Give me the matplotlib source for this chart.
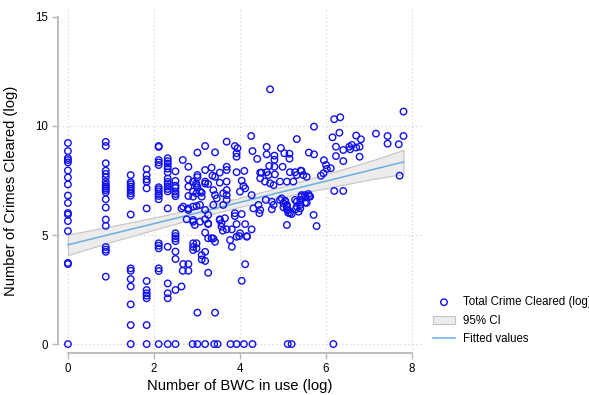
import matplotlib
matplotlib.use("Agg")
import matplotlib.pyplot as plt

plt.rcParams['font.family'] = ['Liberation Sans', 'DejaVu Sans']

# stacked columns at the low BWC counts (x value, then the y values in that column)
col_x = [0.0, 0.88, 1.46, 1.83, 2.11, 2.32, 2.50]
col_y = [
    [9.22, 8.85, 8.53, 8.44, 8.33, 7.96, 7.64, 7.32, 6.81, 6.47, 6.01, 5.94, 5.64, 5.18, 3.72, 3.67],
    [9.27, 9.08, 8.29, 7.95, 7.80, 7.65, 7.44, 7.31, 7.22, 7.14, 7.06, 6.96, 6.64, 6.26, 5.71, 5.42,
     4.45, 4.33, 4.23, 3.09],
    [7.75, 7.42, 7.33, 7.22, 7.11, 7.02, 6.91, 6.80, 5.94, 3.47, 3.36, 2.98, 2.64, 1.82, 0.87],
    [8.02, 7.74, 7.55, 7.44, 7.14, 6.22, 2.89, 2.48, 2.33, 2.22, 2.10, 0.87],
    [9.08, 9.04, 8.44, 8.33, 8.21, 7.19, 7.10, 7.00, 6.88, 6.79, 6.64, 4.62, 4.51, 4.39, 3.47, 3.35],
    [8.52, 8.39, 8.28, 8.15, 8.04, 7.87, 7.59, 7.44, 7.34, 7.22, 7.11, 7.00, 6.22, 4.46, 2.78, 2.33, 2.10],
    [7.92, 7.48, 7.26, 7.16, 6.99, 6.88, 6.78, 5.08, 4.95, 4.84, 4.72, 4.24, 3.90, 2.48],
]

# units with zero crimes cleared
zero_x = [0.0, 1.46, 1.83, 2.11, 2.32, 2.50, 2.90, 3.01, 3.19, 3.40, 3.48, 3.78, 3.92,
          4.09, 4.29, 5.11, 5.20, 6.17]

# the rest of the scatter
pts_x = [2.76, 2.91, 2.95, 3.19, 3.26, 3.53, 3.57, 3.65, 3.88, 3.88, 4.04, 3.60, 3.69, 3.81, 3.92,
         4.12, 4.27, 3.19, 3.26, 3.34, 3.42, 3.77, 3.81, 3.92, 3.98, 4.16, 5.09, 2.91, 2.99, 2.91,
         2.99, 2.91, 3.19, 3.11, 3.11, 3.19, 2.68, 2.80, 2.67, 2.80, 3.26, 4.12, 2.64, 3.01, 3.42,
         4.04,
         4.70, 4.26, 5.32, 3.69, 3.88, 3.94, 3.92, 3.92, 3.19, 3.01, 3.42, 2.67, 2.80, 4.29, 4.40,
         4.62, 4.62, 4.80, 4.80, 4.95, 5.03, 5.15, 5.15, 4.68, 4.80, 4.99, 4.50, 4.62, 4.66, 4.81,
         5.16, 5.28, 5.32, 3.69, 3.69, 3.34, 3.19, 3.01, 3.01, 3.36, 3.42, 3.53, 3.92, 4.10, 4.47,
         4.47,
         7.80, 6.19, 6.33, 5.72, 6.15, 6.31, 6.70, 6.81, 7.16, 7.43, 7.43, 7.69, 7.80, 6.23, 6.40,
         6.54, 6.60, 6.56, 6.70, 6.78, 6.78, 6.23, 6.40, 5.60, 5.72, 5.95, 6.00, 6.02, 6.11, 5.94,
         5.88, 5.43, 5.47, 5.55, 7.71, 5.41,
         6.19, 6.40, 5.71, 5.78, 5.43, 5.53, 5.61, 5.51, 5.40, 4.97, 5.05, 5.09, 5.01, 5.09, 5.12,
         5.20, 5.30, 5.32, 5.40, 5.43, 5.51, 5.59, 5.63, 5.55, 5.40,
         2.98, 3.01, 3.19, 3.26, 3.53, 3.69, 4.04, 4.08, 4.12, 4.58, 4.70, 4.78, 4.93, 5.09, 5.24,
         2.80, 2.91, 2.99, 3.07, 3.11, 3.38, 3.42, 3.46, 3.69, 3.69, 3.61, 4.00, 4.27, 4.43, 4.47,
         4.45, 4.31, 4.60, 4.74, 4.74, 4.78, 4.93, 5.01, 5.09, 5.12, 5.16, 5.28, 5.32, 5.36, 5.05,
         2.68, 2.80, 2.91, 2.99, 3.07, 3.38, 3.61, 3.69,
         2.80, 2.80, 2.91, 2.91, 2.99, 3.11, 3.19, 3.19, 3.26, 3.07, 2.91, 2.80, 2.64, 3.26, 3.53,
         3.57, 3.38, 4.00, 4.16]
pts_y = [5.72, 5.69, 5.46, 5.72, 5.50, 5.72, 5.54, 5.77, 6.00, 5.87, 5.96, 5.20, 5.26, 5.26, 5.50,
         5.50, 5.26, 5.11, 4.85, 4.85, 4.69, 4.77, 4.46, 4.92, 4.95, 4.92, 5.46, 4.62, 4.62, 4.46,
         4.39, 4.31, 4.23, 4.08, 3.88, 3.81, 3.67, 3.67, 3.36, 3.36, 3.27, 3.66, 2.64, 1.44, 1.44,
         2.90,
         11.68, 9.54, 9.40, 9.28, 9.08, 8.98, 8.75, 8.59, 9.08, 8.78, 8.79, 8.44, 8.13, 8.85, 8.49,
         9.04, 8.70, 8.64, 8.45, 8.99, 8.75, 8.73, 8.50, 8.17, 8.13, 8.13, 7.86, 7.88, 7.75, 7.78,
         7.88, 7.88, 7.75, 8.13, 7.98, 8.09, 7.98, 7.75, 7.65, 7.72, 7.67, 7.86, 7.88, 7.94, 7.86,
         7.60,
         10.66, 10.31, 10.40, 9.97, 9.48, 9.69, 9.56, 9.39, 9.65, 9.54, 9.19, 9.16, 9.54, 9.05, 8.90,
         9.05, 9.13, 8.93, 9.01, 9.05, 8.59, 8.62, 8.39, 8.78, 8.70, 8.43, 8.21, 8.03, 8.06, 7.83,
         7.72, 7.94, 7.75, 7.67, 7.72, 7.95,
         7.02, 7.02, 5.92, 5.41, 6.83, 6.73, 6.79, 6.48, 6.22, 6.68, 6.53, 6.38, 6.27, 6.18, 6.02,
         5.96, 6.19, 6.53, 6.61, 6.76, 6.83, 6.88, 6.76, 6.48, 6.38,
         7.37, 7.19, 7.45, 7.34, 7.40, 7.45, 7.49, 7.25, 7.14, 7.45, 7.37, 7.29, 7.45, 7.45, 7.45,
         6.79, 6.76, 6.91, 6.99, 6.76, 7.06, 6.83, 6.68, 7.06, 6.83, 6.91, 6.99, 6.83, 6.38, 6.15,
         6.00, 6.22, 6.61, 6.53, 6.18, 6.38, 6.61, 6.45, 6.30, 6.15, 6.00, 6.61, 6.30, 6.07, 6.57,
         6.30, 6.22, 6.30, 6.33, 6.38, 6.38, 6.38, 6.61,
         7.55, 7.22, 7.45, 6.99, 7.29, 6.94, 7.36, 6.15, 5.92, 5.61, 5.61, 6.15, 6.22, 5.53, 5.69,
         5.38, 4.84, 5.08, 4.95]

# fitted line and 95% CI band
fit_x = [0.0, 1.0, 2.0, 3.0, 4.0, 5.0, 6.0, 7.0, 7.8]
fit_y = [4.55, 5.04, 5.52, 6.01, 6.50, 6.99, 7.47, 7.96, 8.35]
ci_lo = [4.08, 4.68, 5.24, 5.79, 6.29, 6.75, 7.15, 7.54, 7.80]
ci_hi = [5.02, 5.40, 5.80, 6.23, 6.71, 7.23, 7.79, 8.38, 8.90]

# gather all scatter points
all_x = []
all_y = []
for cx, ys in zip(col_x, col_y):
    all_x += [cx] * len(ys)
    all_y += ys
all_x += zero_x
all_y += [0.0] * len(zero_x)
all_x += pts_x
all_y += pts_y

fig = plt.figure(figsize=(5.89, 3.95), dpi=100)
ax = fig.add_axes([58 / 589, 42 / 395, 364 / 589, 345 / 395])

ci = ax.fill_between(fit_x, ci_lo, ci_hi, facecolor='#ececec', edgecolor='#c4c4c4',
                     linewidth=0.8, zorder=2, label='95% CI')
line, = ax.plot(fit_x, fit_y, color='#6aaee0', linewidth=1.1, zorder=3, label='Fitted values')
sc = ax.scatter(all_x, all_y, s=22, facecolors='none', edgecolors='#1010ee', linewidths=1.0,
                zorder=4, label='Total Crime Cleared (log)')

ax.set_xlim(-0.23, 8.23)
ax.set_ylim(-0.41, 15.41)
ax.set_xticks([0, 2, 4, 6, 8])
ax.set_yticks([0, 5, 10, 15])

# dotted grid (no horizontal line at 15)
for gx in [0, 2, 4, 6, 8]:
    ax.axvline(gx, color='#d0d0d0', linestyle=(0, (1, 2.5)), linewidth=0.8, zorder=1)
for gy in [0, 5, 10]:
    ax.axhline(gy, color='#d0d0d0', linestyle=(0, (1, 2.5)), linewidth=0.8, zorder=1)

for side in ['top', 'right']:
    ax.spines[side].set_visible(False)
ax.spines['left'].set_bounds(0, 15)
ax.spines['bottom'].set_bounds(0, 8)
for side in ['left', 'bottom']:
    ax.spines[side].set_color('#b8b8b8')
    ax.spines[side].set_linewidth(1.3)
ax.tick_params(colors='#b8b8b8', width=1.0, length=4, labelcolor='black', labelsize=8.3, pad=3)

ax.set_xlabel('Number of BWC in use (log)', fontsize=10.6, labelpad=3)
ax.set_ylabel('Number of Crimes Cleared (log)', fontsize=10.6)
ax.yaxis.set_label_coords(-0.11, 0.47)

fig.legend(handles=[sc, ci, line], loc='upper left', bbox_to_anchor=(433 / 589, 0.25),
           frameon=False, fontsize=8.3, handlelength=1.9, handletextpad=0.7,
           labelspacing=0.55, borderpad=0, borderaxespad=0)

fig.savefig('out.png', dpi=100)
